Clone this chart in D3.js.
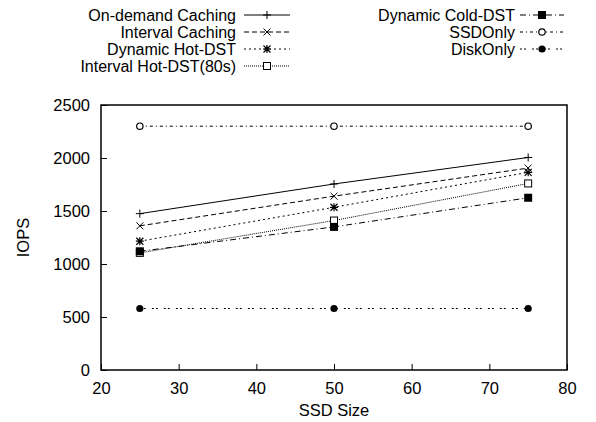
<!DOCTYPE html>
<html>
<head>
<meta charset="utf-8">
<script src="https://cdn.jsdelivr.net/npm/d3@7"></script>
<style>
  body { margin: 0; background: #fff; }
  text { font-family: "Liberation Sans", Arial, sans-serif; fill: #000; }
</style>
</head>
<body>
<div id="chart"></div>
<script>
// data
const ssdSizes = [25, 50, 75];
const onDemandCaching = [1475, 1755, 2005];
const intervalCaching = [1360, 1640, 1905];
const dynamicHotDST = [1215, 1535, 1865];
const intervalHotDST80 = [1105, 1410, 1760];
const dynamicColdDST = [1120, 1350, 1625];
const ssdOnly = [2300, 2300, 2300];
const diskOnly = [580, 580, 580];

const xTicks = [20, 30, 40, 50, 60, 70, 80];
const yTicks = [0, 500, 1000, 1500, 2000, 2500];

const series = [
  { name: "On-demand Caching", values: onDemandCaching, dash: null, marker: "plus" },
  { name: "Interval Caching", values: intervalCaching, dash: "5,3", marker: "cross" },
  { name: "Dynamic Hot-DST", values: dynamicHotDST, dash: "2,3", marker: "star" },
  { name: "Interval Hot-DST(80s)", values: intervalHotDST80, dash: "1,1", marker: "box" },
  { name: "Dynamic Cold-DST", values: dynamicColdDST, dash: "6,3,1,3", marker: "fbox" },
  { name: "SSDOnly", values: ssdOnly, dash: "3,3,1,3", marker: "circle" },
  { name: "DiskOnly", values: diskOnly, dash: "2,2,2,6", marker: "fcircle" },
];

const W = 596, H = 422;
const margin = { top: 105, right: 29, bottom: 52, left: 101 };
const fontSize = "16.5px";

const svg = d3.select("#chart").append("svg")
  .attr("width", W).attr("height", H);

const x = d3.scaleLinear().domain([20, 80]).range([margin.left, W - margin.right]);
const y = d3.scaleLinear().domain([0, 2500]).range([H - margin.bottom, margin.top]);

// inward ticks, gnuplot style
const xAxis = svg.append("g")
  .attr("transform", `translate(0,${H - margin.bottom})`)
  .call(d3.axisBottom(x).tickValues(xTicks).tickSize(-6).tickPadding(12).tickFormat(d3.format("d")));
const yAxis = svg.append("g")
  .attr("transform", `translate(${margin.left},0)`)
  .call(d3.axisLeft(y).tickValues(yTicks).tickSize(-6).tickPadding(11).tickFormat(d3.format("d")));

[xAxis, yAxis].forEach((a) => {
  a.select(".domain").remove();
  a.selectAll("text").style("font-size", fontSize).attr("fill", "#000");
  a.selectAll("line").attr("stroke", "#000").attr("stroke-width", 1);
});

svg.append("rect")
  .attr("x", margin.left).attr("y", margin.top)
  .attr("width", W - margin.left - margin.right)
  .attr("height", H - margin.top - margin.bottom)
  .attr("fill", "none").attr("stroke", "#000").attr("stroke-width", 1.5);

svg.append("text")
  .attr("x", (margin.left + W - margin.right) / 2).attr("y", 416)
  .attr("text-anchor", "middle").style("font-size", fontSize).text("SSD Size");

svg.append("text")
  .attr("transform", `translate(29,${(margin.top + H - margin.bottom) / 2}) rotate(-90)`)
  .attr("text-anchor", "middle").style("font-size", fontSize).text("IOPS");

function drawMarker(g, type, cx, cy) {
  const s = 4;
  if (type === "plus") {
    g.append("path").attr("d", `M${cx - s},${cy}H${cx + s}M${cx},${cy - s}V${cy + s}`)
      .attr("stroke", "#000").attr("stroke-width", 1);
  } else if (type === "cross") {
    g.append("path").attr("d", `M${cx - 3.5},${cy - 3.5}L${cx + 3.5},${cy + 3.5}M${cx - 3.5},${cy + 3.5}L${cx + 3.5},${cy - 3.5}`)
      .attr("stroke", "#000").attr("stroke-width", 1);
  } else if (type === "star") {
    g.append("path").attr("d", `M${cx - 3.5},${cy - 3.5}L${cx + 3.5},${cy + 3.5}M${cx - 3.5},${cy + 3.5}L${cx + 3.5},${cy - 3.5}M${cx - s},${cy}H${cx + s}M${cx},${cy - s}V${cy + s}`)
      .attr("stroke", "#000").attr("stroke-width", 1.2);
  } else if (type === "box") {
    g.append("rect").attr("x", cx - 3.5).attr("y", cy - 3.5).attr("width", 7).attr("height", 7)
      .attr("fill", "#fff").attr("stroke", "#000").attr("stroke-width", 1);
  } else if (type === "fbox") {
    g.append("rect").attr("x", cx - 4).attr("y", cy - 4).attr("width", 8).attr("height", 8)
      .attr("fill", "#000");
  } else if (type === "circle") {
    g.append("circle").attr("cx", cx).attr("cy", cy).attr("r", 3.2)
      .attr("fill", "#fff").attr("stroke", "#000").attr("stroke-width", 1.2);
  } else if (type === "fcircle") {
    g.append("circle").attr("cx", cx).attr("cy", cy).attr("r", 3.6).attr("fill", "#000");
  }
}

const line = d3.line().x((d) => x(d.x)).y((d) => y(d.y));

const plot = svg.append("g");
series.forEach((s) => {
  const pts = ssdSizes.map((v, i) => ({ x: v, y: s.values[i] }));
  const g = plot.append("g");
  g.append("path").datum(pts)
    .attr("d", line)
    .attr("fill", "none").attr("stroke", "#000").attr("stroke-width", 1)
    .attr("stroke-dasharray", s.dash);
  pts.forEach((p) => drawMarker(g, s.marker, x(p.x), y(p.y)));
});

// legend: two columns, text right aligned, sample line to the right
const legendCols = [
  { textX: 236, x1: 244, x2: 290 },
  { textX: 515, x1: 520, x2: 564 },
];
const rowY = (i) => 15 + i * 17;
series.forEach((s, k) => {
  const col = k < 4 ? legendCols[0] : legendCols[1];
  const row = k < 4 ? k : k - 4;
  const yy = rowY(row);
  const g = svg.append("g");
  g.append("text").attr("x", col.textX).attr("y", yy).attr("dy", "0.36em")
    .attr("text-anchor", "end").style("font-size", "16px").text(s.name);
  g.append("line").attr("x1", col.x1).attr("x2", col.x2).attr("y1", yy).attr("y2", yy)
    .attr("stroke", "#000").attr("stroke-width", 1).attr("stroke-dasharray", s.dash);
  drawMarker(g, s.marker, (col.x1 + col.x2) / 2, yy);
});
</script>
</body>
</html>
